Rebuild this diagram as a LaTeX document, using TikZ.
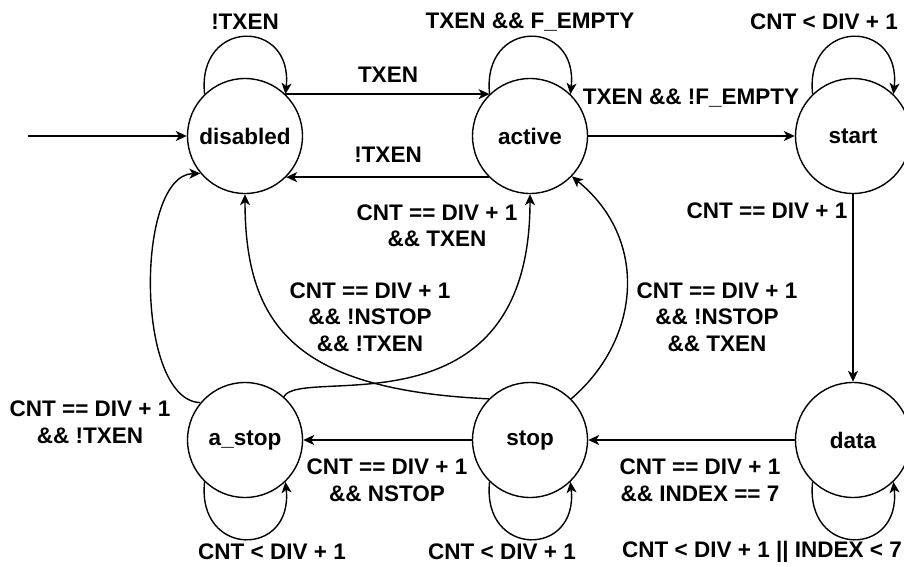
\documentclass[tikz,border=0pt]{standalone}
\usepackage{fontspec}
\setmainfont{Liberation Sans}
\usetikzlibrary{arrows.meta}
\begin{document}
\begin{tikzpicture}[x=1pt,y=-1pt,
  txt/.style={font=\bfseries\fontsize{22.5}{26.5}\selectfont},
  state/.style={circle,draw,line width=1.4pt,minimum size=115pt,inner sep=0pt,txt},
  lbl/.style={txt,align=center,inner sep=0pt},
  edge/.style={line width=1.4pt,-{Stealth[length=11pt,width=10pt,inset=3pt]}},
]
\useasboundingbox (0,0) rectangle (904,567);
\fill[white] (0,0) rectangle (904,567);
% states
\node[state] (dis) at (245,136) {disabled};
\node[state] (act) at (530,136) {active};
\node[state] (sta) at (853,136) {start};
\node[state] (ast) at (245,440) {a\_stop};
\node[state] (stp) at (530,440) {stop};
\node[state] (dat) at (853,440) {data};
\coordinate (init) at (28,136);
% straight edges
\draw[edge] (init) -- (dis.west);
\draw[edge] (dis.46) -- (act.134);
\draw[edge] (act.225) -- (dis.-45);
\draw[edge] (act.east) -- (sta.west);
\draw[edge] (sta.south) -- (dat.north);
\draw[edge] (dat.west) -- (stp.east);
\draw[edge] (stp.west) -- (ast.east);
% self loops
\draw[edge] (dis.134) .. controls +(-8,-76) and +(8,-76) .. (dis.46);
\draw[edge] (act.134) .. controls +(-8,-76) and +(8,-76) .. (act.46);
\draw[edge] (sta.134) .. controls +(-8,-76) and +(8,-76) .. (sta.46);
\draw[edge] (ast.226) .. controls +(-8,76) and +(8,76) .. (ast.-46);
\draw[edge] (stp.226) .. controls +(-8,76) and +(8,76) .. (stp.-46);
\draw[edge] (dat.226) .. controls +(-8,76) and +(8,76) .. (dat.-46);
% curved edges
\draw[edge] (ast.140) .. controls (135,401) and (135,175) .. (dis.220);
\draw[edge] (stp.135) .. controls (300,390) and (245,330) .. (dis.south);
\draw[edge] (ast.48) .. controls (300,365) and (530,440) .. (act.south);
\draw[edge] (stp.45) .. controls (640,340) and (650,240) .. (act.-44);
% labels
\node[lbl] (l1) at (245,22) {!TXEN};
\node[lbl] (l2) at (530,22) {TXEN \&\& F\_EMPTY};
\node[lbl] (l3) at (824,22) {CNT < DIV + 1};
\node[lbl] (l4) at (388,75) {TXEN};
\node[lbl] (l5) at (388,155) {!TXEN};
\node[lbl] (l6) at (691,98) {TXEN \&\& !F\_EMPTY};
\node[lbl] (l7) at (767,211) {CNT == DIV + 1};
\node[lbl] (l8) at (437,226) {CNT == DIV + 1\\\&\& TXEN};
\node[lbl] (l9) at (370,317) {CNT == DIV + 1\\\&\& !NSTOP\\\&\& !TXEN};
\node[lbl] (l10) at (717,317) {CNT == DIV + 1\\\&\& !NSTOP\\\&\& TXEN};
\node[lbl] (l11) at (90,422) {CNT == DIV + 1\\\&\& !TXEN};
\node[lbl] (l12) at (387,480) {CNT == DIV + 1\\\&\& NSTOP};
\node[lbl] (l13) at (700,480) {CNT == DIV + 1\\\&\& INDEX == 7};
\node[lbl] (l14) at (272,552) {CNT < DIV + 1};
\node[lbl] (l15) at (502,552) {CNT < DIV + 1};
\node[lbl] (l16) at (762,552) {CNT < DIV + 1 || INDEX < 7};
\end{tikzpicture}
\end{document}
